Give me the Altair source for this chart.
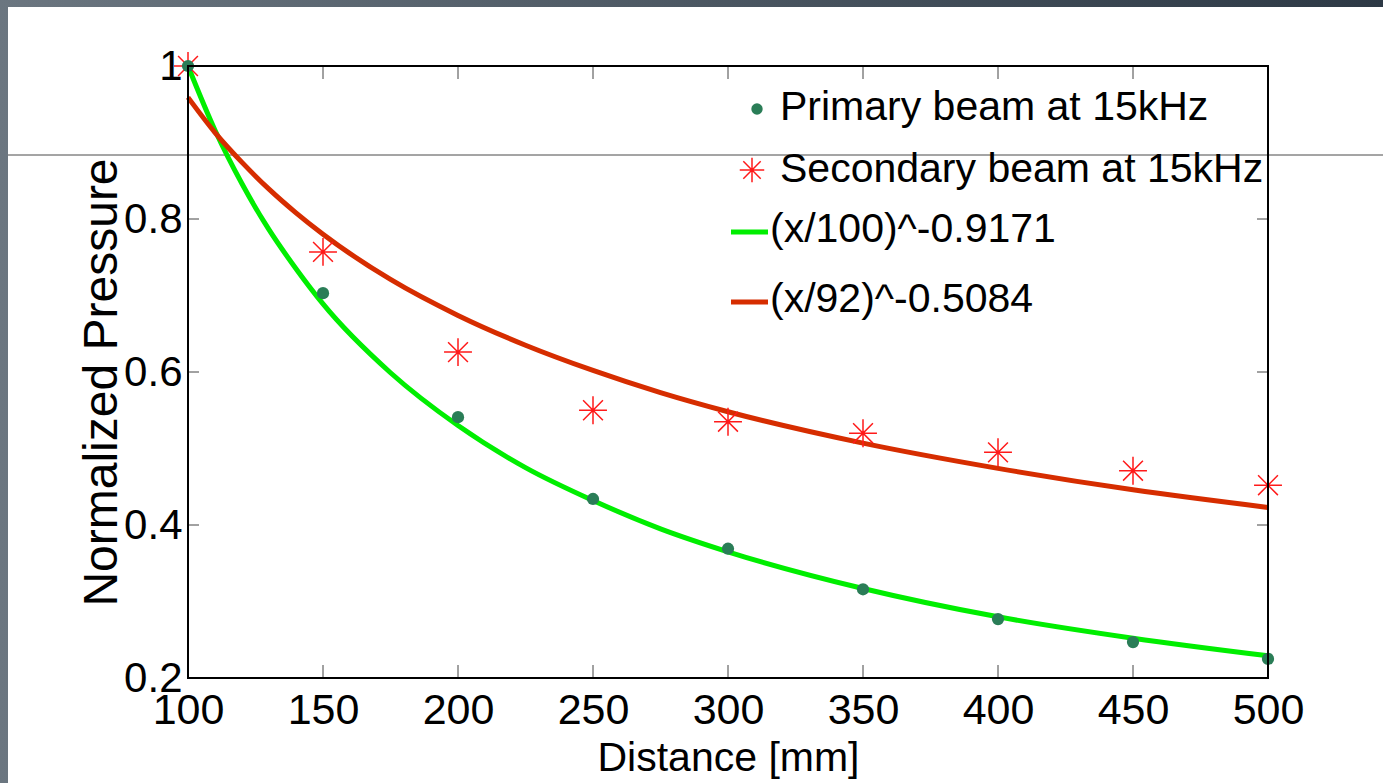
import altair as alt
import pandas as pd

# ---- data ----
distance = [100, 150, 200, 250, 300, 350, 400, 450, 500]
primary = [1.0, 0.703, 0.541, 0.434, 0.369, 0.316, 0.277, 0.247, 0.225]
secondary = [1.0, 0.757, 0.626, 0.550, 0.535, 0.520, 0.495, 0.471, 0.452]

fit_x = [100, 110, 120, 130, 140, 150, 175, 200, 225, 250, 275, 300, 350, 400, 450, 500]
fit_green = [1.0, 0.916, 0.846, 0.786, 0.735, 0.689, 0.599, 0.530, 0.475, 0.432, 0.395,
             0.365, 0.317, 0.280, 0.252, 0.229]
fit_red = [0.959, 0.913, 0.874, 0.839, 0.808, 0.780, 0.721, 0.674, 0.635, 0.602, 0.573,
           0.548, 0.507, 0.474, 0.446, 0.423]

x_ticks = [100, 150, 200, 250, 300, 350, 400, 450, 500]
y_ticks = [0.2, 0.4, 0.6, 0.8, 1.0]

legend_labels = ["Primary beam at 15kHz", "Secondary beam at 15kHz",
                 "(x/100)^-0.9171", "(x/92)^-0.5084"]

FONT = "Liberation Sans, Arial"

W, H = 1080, 612
L, T = 188, 66

pts = pd.DataFrame({"d": distance, "p": primary, "s": secondary})
fit = pd.DataFrame({"d": fit_x, "g": fit_green, "r": fit_red})
one = pd.DataFrame({"a": [0]})

xs = alt.Scale(domain=[100, 500], nice=False, zero=False)
ys = alt.Scale(domain=[0.2, 1.0], nice=False, zero=False)

# background frame (slide border)
bg = alt.Chart(one).mark_rect(
    color=alt.LinearGradient(gradient="linear", x1=0, x2=1, y1=0, y2=0,
                             stops=[alt.GradientStop(color="#6b7680", offset=0),
                                    alt.GradientStop(color="#2d3945", offset=1)])
).encode(x=alt.value(-L), x2=alt.value(1383 - L), y=alt.value(-T), y2=alt.value(783 - T))
white = alt.Chart(one).mark_rect(color="white").encode(
    x=alt.value(-L + 8), x2=alt.value(1383 - L + 5), y=alt.value(-T + 7), y2=alt.value(783 - T + 5))
hline = alt.Chart(one).mark_rule(color="#4a4a4a", strokeWidth=1).encode(
    x=alt.value(-L + 8), x2=alt.value(1383 - L), y=alt.value(155 - T))

# axes (labels + titles)
base = alt.Chart(pts).mark_point(opacity=0).encode(
    x=alt.X("d:Q", scale=xs, title="Distance [mm]",
            axis=alt.Axis(values=x_ticks, domain=False, ticks=False, grid=False, zindex=2,
                          labelFont=FONT, labelFontSize=43, labelColor="black",
                          labelPadding=11, labelOverlap=False, labelFlush=False, labelBound=False,
                          titleFont=FONT, titleFontSize=41, titleColor="black",
                          titleFontWeight="normal", titleX=540, titleY=92,
                          titleBaseline="alphabetic", titleAlign="center")),
    y=alt.Y("p:Q", scale=ys, title="Normalized Pressure",
            axis=alt.Axis(values=y_ticks, domain=False, ticks=False, grid=False, zindex=2,
                          labelExpr="datum.value == 1 ? '1' : format(datum.value, '.1f')",
                          labelFont=FONT, labelFontSize=42, labelColor="black",
                          labelPadding=6, labelOverlap=False, labelFlush=False, labelBound=False,
                          titleFont=FONT, titleFontSize=48, titleColor="black",
                          titleFontWeight="normal", titleX=-72, titleY=316, titleAngle=270,
                          titleBaseline="alphabetic", titleAlign="center")),
)

tickdf_x = pd.DataFrame({"t": x_ticks[1:-1]})
tickdf_y = pd.DataFrame({"t": y_ticks[1:-1]})
tb = alt.Chart(tickdf_x).mark_rule(color="#444444", strokeWidth=1).encode(
    x=alt.X("t:Q", scale=xs), y=alt.value(H - 13), y2=alt.value(H))
tt = alt.Chart(tickdf_x).mark_rule(color="#444444", strokeWidth=1).encode(
    x=alt.X("t:Q", scale=xs), y=alt.value(0), y2=alt.value(13))
tl = alt.Chart(tickdf_y).mark_rule(color="#444444", strokeWidth=1).encode(
    y=alt.Y("t:Q", scale=ys), x=alt.value(0), x2=alt.value(11))
tr = alt.Chart(tickdf_y).mark_rule(color="#444444", strokeWidth=1).encode(
    y=alt.Y("t:Q", scale=ys), x=alt.value(W - 11), x2=alt.value(W))

box = alt.Chart(one).mark_rect(fill=None, stroke="black", strokeWidth=2).encode(
    x=alt.value(0), x2=alt.value(W), y=alt.value(0), y2=alt.value(H))

green = alt.Chart(fit).mark_line(color="#00ee00", strokeWidth=5, interpolate="monotone").encode(
    x=alt.X("d:Q", scale=xs), y=alt.Y("g:Q", scale=ys))
red = alt.Chart(fit).mark_line(color="#d62d00", strokeWidth=5, interpolate="monotone").encode(
    x=alt.X("d:Q", scale=xs), y=alt.Y("r:Q", scale=ys))

STAR = "M-1,0L1,0M0,-1L0,1M-0.71,-0.71L0.71,0.71M-0.71,0.71L0.71,-0.71"
stars = alt.Chart(pts).mark_point(shape=STAR, filled=False, color="#ff1a1a", strokeWidth=1.5,
                                  size=780, opacity=1).encode(
    x=alt.X("d:Q", scale=xs), y=alt.Y("s:Q", scale=ys))
dots = alt.Chart(pts).mark_point(shape="circle", filled=True, color="#2a7d57", size=150,
                                 opacity=1).encode(
    x=alt.X("d:Q", scale=xs), y=alt.Y("p:Q", scale=ys))

# legend (manual, inside the plot)
lg_dot = alt.Chart(one).mark_point(shape="circle", filled=True, color="#2a7d57", size=130,
                                   opacity=1).encode(x=alt.value(757 - L), y=alt.value(109 - T))
lg_star = alt.Chart(one).mark_point(shape=STAR, filled=False, color="#ff1a1a", strokeWidth=1.5,
                                    size=600, opacity=1).encode(x=alt.value(752 - L), y=alt.value(170 - T))
lg_g = alt.Chart(one).mark_rule(color="#00ee00", strokeWidth=5).encode(
    x=alt.value(731 - L), x2=alt.value(768 - L), y=alt.value(232 - T))
lg_r = alt.Chart(one).mark_rule(color="#d62d00", strokeWidth=5).encode(
    x=alt.value(731 - L), x2=alt.value(768 - L), y=alt.value(302 - T))
lg_text = []
for lab, xx, yy in zip(legend_labels, [780, 780, 770, 770], [108, 170, 230, 300]):
    lg_text.append(alt.Chart(one).mark_text(text=lab, font=FONT, fontSize=41, color="black",
                                            align="left", baseline="middle").encode(
        x=alt.value(xx - L), y=alt.value(yy - T)))

chart = alt.layer(bg, white, hline, base, tb, tt, tl, tr, green, red, stars, dots, box,
                  lg_dot, lg_star, lg_g, lg_r, *lg_text).properties(
    width=W, height=H, autosize=alt.AutoSizeParams(type="none"),
    padding={"left": L, "top": T, "right": 1383 - L - W, "bottom": 783 - T - H},
    background="white",
).configure_view(stroke=None)

chart.save("out.html", embed_options={"renderer": "svg", "actions": False})
